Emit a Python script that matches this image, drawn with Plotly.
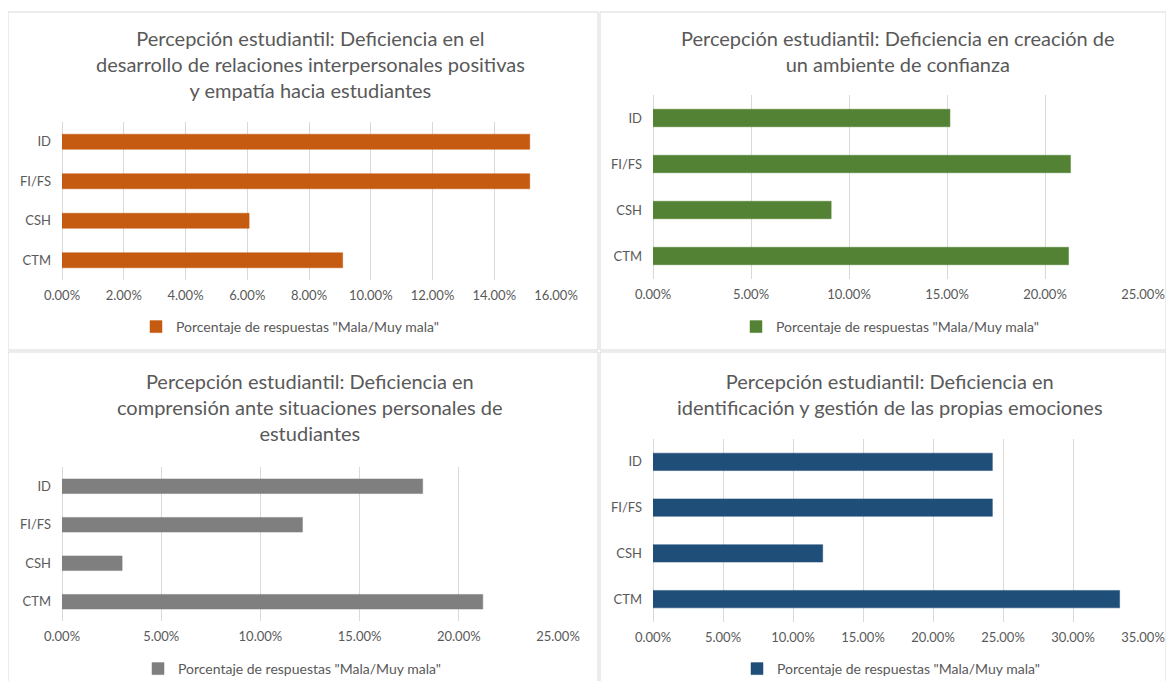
import plotly.graph_objects as go

# The page body adds an 8px margin, so the figure is drawn smaller and
# every reference pixel position is shifted by OFF.
OFF = 8
W, H = 1174 - 2 * OFF, 689 - 2 * OFF

categories = ["ID", "FI/FS", "CSH", "CTM"]
serie_nombre = 'Porcentaje de respuestas "Mala/Muy mala"'

titulos = [
    "Percepción estudiantil: Deficiencia en el<br>desarrollo de relaciones interpersonales positivas<br>y empatía hacia estudiantes",
    "Percepción estudiantil: Deficiencia en creación de<br>un ambiente de confianza",
    "Percepción estudiantil: Deficiencia en<br>comprensión ante situaciones personales de<br>estudiantes",
    "Percepción estudiantil: Deficiencia en<br>identificación y gestión de las propias emociones",
]

relaciones = [0.1515, 0.1515, 0.0606, 0.0909]
confianza = [0.1515, 0.2130, 0.0909, 0.2120]
comprension = [0.1818, 0.1212, 0.0303, 0.2121]
emociones = [0.2424, 0.2424, 0.1212, 0.3333]

colores = ["#C55A11", "#548235", "#7F7F7F", "#1F4E79"]
rangos = [0.16, 0.25, 0.25, 0.35]
pasos = [0.02, 0.05, 0.05, 0.05]

# reference-pixel layout of each panel
paneles = [
    dict(x0=62, x1=556, y0=122, y1=280, ty=38, ly=327, lx=176, box=(8, 12, 598, 350), tx=310),
    dict(x0=653, x1=1143, y0=95, y1=279, ty=38, ly=327, lx=776, box=(600, 12, 1166, 350), tx=898),
    dict(x0=62, x1=558, y0=467, y1=621, ty=381, ly=669, lx=178, box=(8, 352, 598, 688), tx=310),
    dict(x0=653, x1=1143, y0=439, y1=622, ty=381, ly=669, lx=777, box=(600, 352, 1166, 688), tx=890),
]


def fx(px):
    return (px - OFF) / W


def fy(py):
    return 1 - (py - OFF) / H


series = [relaciones, confianza, comprension, emociones]

fig = go.Figure()
layout = dict(
    width=W, height=H,
    margin=dict(l=0, r=0, t=0, b=0, autoexpand=False),
    paper_bgcolor="white", plot_bgcolor="white",
    font=dict(family="Lato, Open Sans, sans-serif", color="#595959"),
    shapes=[], annotations=[],
)

for i, (vals, col, p) in enumerate(zip(series, colores, paneles)):
    n = "" if i == 0 else str(i + 1)
    leg = "legend" if i == 0 else f"legend{i+1}"
    fig.add_trace(go.Bar(
        y=categories, x=vals, orientation="h",
        name=serie_nombre,
        marker=dict(color=col, line=dict(color=col, width=0.5)),
        width=0.38,
        xaxis="x" + n, yaxis="y" + n,
        legend=leg,
        showlegend=True,
    ))
    layout["xaxis" + n] = dict(
        domain=[fx(p["x0"]), fx(p["x1"])],
        range=[0, rangos[i]], dtick=pasos[i], tick0=0,
        tickformat=".2%",
        showgrid=True, gridcolor="#D9D9D9", gridwidth=1,
        zeroline=True, zerolinecolor="#D9D9D9", zerolinewidth=1,
        showline=False, ticks="",
        tickfont=dict(size=13, color="#595959"),
        ticklabelstandoff=6,
        automargin=False,
        anchor="y" + n, fixedrange=True,
    )
    layout["yaxis" + n] = dict(
        domain=[fy(p["y1"]), fy(p["y0"])],
        autorange="reversed", type="category",
        showgrid=False, zeroline=False, showline=False, ticks="",
        tickfont=dict(size=13, color="#595959"),
        ticklabelstandoff=10,
        automargin=False,
        anchor="x" + n, fixedrange=True,
    )
    layout[leg] = dict(
        x=fx(p["lx"] - 40), y=fy(p["ly"]),
        xanchor="left", yanchor="middle",
        orientation="h",
        font=dict(size=14, color="#595959"),
        bgcolor="rgba(0,0,0,0)",
        itemwidth=30,
    )
    bx0, by0, bx1, by1 = p["box"]
    layout["shapes"].append(dict(
        type="rect", xref="paper", yref="paper",
        x0=fx(bx0), x1=fx(bx1), y0=fy(by1), y1=fy(by0),
        line=dict(color="#D9D9D9", width=1), fillcolor="rgba(0,0,0,0)",
        layer="below",
    ))
    layout["annotations"].append(dict(
        text=titulos[i], xref="paper", yref="paper",
        x=fx(p["tx"]), y=fy(p["ty"] - 14),
        xanchor="center", yanchor="top", showarrow=False,
        font=dict(size=20, color="#595959", family="Lato, Open Sans, sans-serif"),
        align="center",
    ))

fig.update_layout(**layout)
fig.write_html("out.html")
